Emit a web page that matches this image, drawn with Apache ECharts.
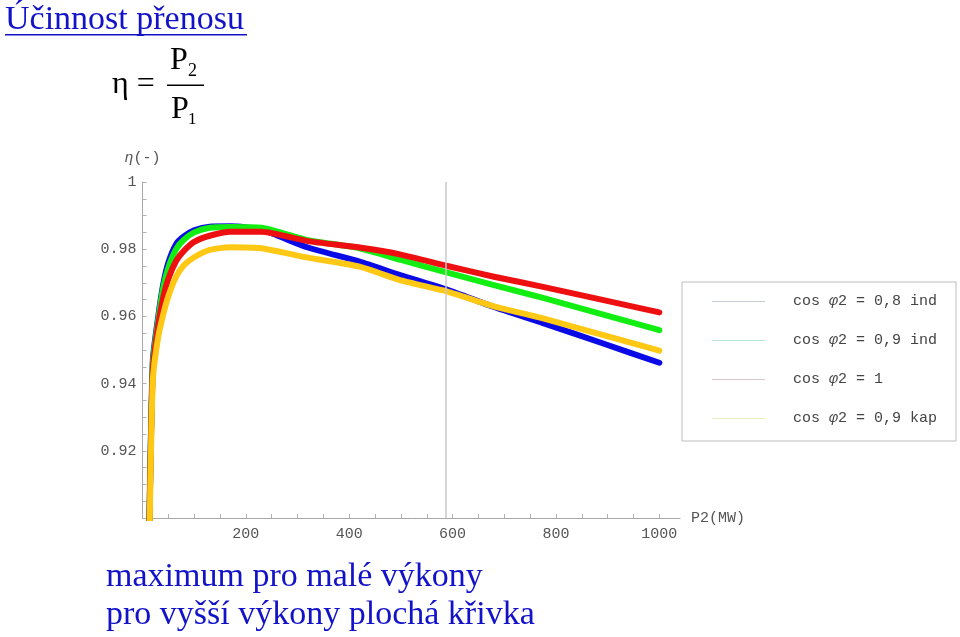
<!DOCTYPE html>
<html>
<head>
<meta charset="utf-8">
<script src="https://cdn.jsdelivr.net/npm/echarts@6.0.0/dist/echarts.min.js"></script>
<style>
  html, body { margin: 0; padding: 0; background: #fff; }
  #main { width: 960px; height: 637px; }
</style>
</head>
<body>
<div id="main"></div>
<script>
// P2 (MW) sample positions shared by all curves
var p2 = [13, 20, 30, 40, 50, 65, 80, 100, 130, 170, 230, 320, 420, 500, 590, 680, 775, 890, 1000];
// efficiency
var eta08ind = [0.895, 0.947, 0.9595, 0.9695, 0.9760, 0.9815, 0.9838, 0.9856, 0.9867, 0.9868, 0.9858, 0.9805, 0.9763, 0.9722, 0.9679, 0.9628, 0.9580, 0.9520, 0.9462];
var eta09ind = [0.895, 0.946, 0.9585, 0.9685, 0.9745, 0.9800, 0.9828, 0.9850, 0.9864, 0.9866, 0.9864, 0.9827, 0.9803, 0.9768, 0.9730, 0.9693, 0.9655, 0.9606, 0.9559];
var eta1 = [0.895, 0.944, 0.9570, 0.9655, 0.9712, 0.9765, 0.9795, 0.9822, 0.9840, 0.9852, 0.9852, 0.9824, 0.9805, 0.9784, 0.9750, 0.9718, 0.9688, 0.9649, 0.9612];
var eta09kap = [0.890, 0.941, 0.9535, 0.9605, 0.9660, 0.9718, 0.9752, 0.9776, 0.9798, 0.9806, 0.9803, 0.9775, 0.9748, 0.9707, 0.9674, 0.9630, 0.9594, 0.9545, 0.9498];

var seriesNames = ['cos φ2 = 0,8 ind', 'cos φ2 = 0,9 ind', 'cos φ2 = 1', 'cos φ2 = 0,9 kap'];
var xLabels = [200, 400, 600, 800, 1000];
var yLabels = [0.92, 0.94, 0.96, 0.98, 1];
var markX = 586;

var xTicks = [];
for (var i = 0; i <= 1000; i += 50) xTicks.push(i);
var yTicks = [];
for (var j = 0; j <= 20; j++) yTicks.push(Math.round((0.9 + j * 0.005) * 1000) / 1000);

function pairs(ys) {
  return p2.map(function (x, k) { return [x, ys[k]]; });
}

var mono = 'Liberation Mono';
var blueText = '#1212c8';

var myChart = echarts.init(document.getElementById('main'), null, { renderer: 'canvas' });

function curve(name, ys, color, extra) {
  var s = {
    name: name,
    type: 'line',
    data: pairs(ys),
    symbol: 'none',
    smooth: 0.2,
    clip: true,
    lineStyle: { width: 6, color: color, cap: 'round', join: 'round' },
    itemStyle: { color: color }
  };
  for (var k in extra) s[k] = extra[k];
  return s;
}

var option = {
  backgroundColor: '#fff',
  animation: false,
  grid: { left: 142.5, top: 182, right: 280, bottom: 119 },
  legend: {
    orient: 'vertical',
    left: 682,
    top: 282,
    padding: [12, 19, 15, 30],
    backgroundColor: '#fff',
    borderColor: '#bdbdbd',
    borderWidth: 1,
    borderRadius: 0,
    icon: 'rect',
    itemWidth: 53,
    itemHeight: 1,
    itemGap: 24,
    data: [
      { name: seriesNames[0], itemStyle: { color: '#c4ccd6' } },
      { name: seriesNames[1], itemStyle: { color: '#b8e6d4' } },
      { name: seriesNames[2], itemStyle: { color: '#d6c6cc' } },
      { name: seriesNames[3], itemStyle: { color: '#e6eec4' } }
    ],
    formatter: function (name) { return name.replace('φ', '{i|φ}'); },
    textStyle: {
      fontFamily: mono, fontSize: 15, color: '#444', padding: [0, 0, 0, 23],
      rich: { i: { fontFamily: mono, fontSize: 15, fontStyle: 'italic', color: '#444' } }
    }
  },
  xAxis: {
    type: 'value',
    min: 0,
    max: 1040,
    name: 'P2(MW)',
    nameLocation: 'end',
    nameGap: 11,
    nameTextStyle: { fontFamily: mono, fontSize: 15, color: '#555' },
    axisLine: { lineStyle: { color: '#a8a8a8', width: 1 } },
    axisTick: { inside: true, length: 4, customValues: xTicks, lineStyle: { color: '#b0b0b0' } },
    axisLabel: {
      customValues: xLabels, margin: 9,
      fontFamily: mono, fontSize: 15, color: '#555',
      formatter: function (v) { return String(v); }
    },
    splitLine: { show: false }
  },
  yAxis: {
    type: 'value',
    min: 0.9,
    max: 1,
    name: '{i|η}(-)',
    nameLocation: 'end',
    nameGap: 16,
    nameTextStyle: {
      fontFamily: mono, fontSize: 15, color: '#555',
      rich: { i: { fontFamily: mono, fontSize: 15, fontStyle: 'italic', color: '#555' } }
    },
    axisLine: { show: true, lineStyle: { color: '#a8a8a8', width: 1 } },
    axisTick: { inside: true, length: 4, customValues: yTicks, lineStyle: { color: '#b0b0b0' } },
    axisLabel: {
      customValues: yLabels, margin: 6,
      fontFamily: mono, fontSize: 15, color: '#555',
      formatter: function (v) { return v === 1 ? '1' : v.toFixed(2); }
    },
    splitLine: { show: false }
  },
  series: [
    curve(seriesNames[0], eta08ind, '#0a0ae6', {
      markLine: {
        silent: true,
        symbol: 'none',
        label: { show: false },
        lineStyle: { color: '#c8c8c8', width: 1.5, type: 'solid' },
        data: [{ xAxis: markX }]
      }
    }),
    curve(seriesNames[1], eta09ind, '#12ee12', {}),
    curve(seriesNames[2], eta1, '#ee1010', {}),
    curve(seriesNames[3], eta09kap, '#ffc814', {})
  ],
  graphic: [
    { type: 'text', left: 5, top: 3, style: { text: 'Účinnost přenosu', font: '34px "Liberation Serif"', fill: blueText } },
    { type: 'rect', shape: { x: 5, y: 34, width: 242, height: 1.6 }, style: { fill: blueText } },
    { type: 'text', x: 112, y: 85, style: { text: 'η = ', font: '32px "Liberation Serif"', fill: '#000', verticalAlign: 'middle' } },
    { type: 'text', x: 170, y: 61, style: { text: 'P', font: '32px "Liberation Serif"', fill: '#000', verticalAlign: 'middle' } },
    { type: 'text', x: 188, y: 71, style: { text: '2', font: '18px "Liberation Serif"', fill: '#000', verticalAlign: 'middle' } },
    { type: 'rect', shape: { x: 167, y: 84.5, width: 37, height: 1.4 }, style: { fill: '#000' } },
    { type: 'text', x: 171, y: 110, style: { text: 'P', font: '32px "Liberation Serif"', fill: '#000', verticalAlign: 'middle' } },
    { type: 'text', x: 188, y: 120, style: { text: '1', font: '17px "Liberation Serif"', fill: '#000', verticalAlign: 'middle' } },
    { type: 'text', x: 106, y: 577, style: { text: 'maximum pro malé výkony', font: '34px "Liberation Serif"', fill: blueText, verticalAlign: 'middle' } },
    { type: 'text', x: 106, y: 615, style: { text: 'pro vyšší výkony plochá křivka', font: '34px "Liberation Serif"', fill: blueText, verticalAlign: 'middle' } }
  ]
};

myChart.setOption(option);
</script>
</body>
</html>
